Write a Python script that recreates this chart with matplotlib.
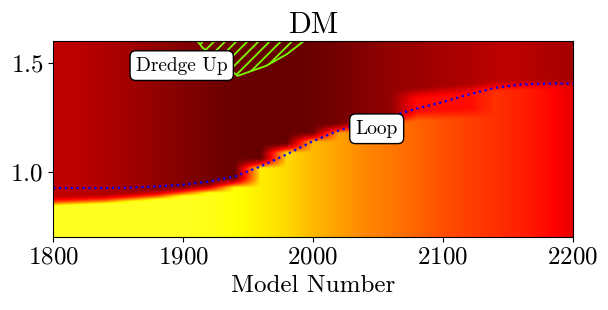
import numpy as np
import matplotlib
matplotlib.use("Agg")
import matplotlib.pyplot as plt

plt.rcParams["font.family"] = ["cmr10", "DejaVu Serif"]
plt.rcParams["mathtext.fontset"] = "cm"
plt.rcParams["axes.formatter.use_mathtext"] = True
plt.rcParams["axes.unicode_minus"] = False
plt.rcParams["hatch.linewidth"] = 1.3

# model numbers of the sampled columns
model_x = [1800, 1820, 1840, 1860, 1880, 1900, 1920, 1940, 1960, 1980, 2000,
           2020, 2040, 2060, 2080, 2100, 2120, 2140, 2160, 2180, 2200]

# mass coordinate of the envelope edge (dark -> bright)
edge_top = [0.865, 0.87, 0.875, 0.885, 0.895, 0.91, 0.925, 0.95, 1.04, 1.11, 1.16,
            1.20, 1.22, 1.245, 1.36, 1.37, 1.38, 1.395, 1.40, 1.40, 1.40]
# lower edge of the red band (same as edge_top where there is no band)
edge_low = [0.865, 0.87, 0.875, 0.885, 0.895, 0.91, 0.925, 0.95, 1.04, 1.11, 1.16,
            1.20, 1.22, 1.245, 1.255, 1.26, 1.265, 1.395, 1.40, 1.40, 1.40]

# colour values (0..1 on the "hot" map)
env_val = [0.274, 0.263, 0.248, 0.226, 0.204, 0.183, 0.161, 0.146, 0.139, 0.139, 0.146,
           0.161, 0.183, 0.204, 0.219, 0.234, 0.248, 0.263, 0.263, 0.248, 0.23]
core_val = [0.78, 0.78, 0.78, 0.78, 0.78, 0.78, 0.77, 0.75, 0.72, 0.69, 0.64,
            0.605, 0.567, 0.544, 0.514, 0.483, 0.46, 0.437, 0.413, 0.38, 0.33]
band_val = 0.38

# blue dotted line
line_y = [0.925, 0.925, 0.925, 0.927, 0.932, 0.94, 0.955, 0.978, 1.025, 1.08, 1.14,
          1.19, 1.225, 1.255, 1.29, 1.32, 1.355, 1.385, 1.40, 1.405, 1.405]

# dredge-up hatched zone
dredge_x = [1911, 1915, 1942, 1964, 1980, 1993]
dredge_y = [1.60, 1.57, 1.44, 1.486, 1.54, 1.60]

# build the raster from the columns
y_rows = np.linspace(0.7, 1.6, 181)
soft = 0.045
Z = np.zeros((len(y_rows), len(model_x)))
for j in range(len(model_x)):
    up = np.clip((y_rows - edge_top[j]) / soft + 0.5, 0, 1)
    lo = np.clip((edge_low[j] - y_rows) / soft + 0.5, 0, 1)
    col = core_val[j] * lo + band_val * (1 - lo)
    Z[:, j] = col * (1 - up) + env_val[j] * up

fig = plt.figure(figsize=(6.08, 3.10), dpi=100)
ax = fig.add_axes([0.0872, 0.2355, 0.8552, 0.6322])

dx = (model_x[1] - model_x[0]) / 2
dy = (y_rows[1] - y_rows[0]) / 2
ax.imshow(Z, cmap="hot", vmin=0, vmax=1, origin="lower", aspect="auto",
          interpolation="bilinear", interpolation_stage="data",
          extent=[model_x[0] - dx, model_x[-1] + dx, y_rows[0] - dy, y_rows[-1] + dy])

ax.fill(dredge_x, dredge_y, facecolor="none", edgecolor="lawngreen", hatch="///", lw=1.3)
ax.plot(model_x, line_y, color="blue", ls=":", lw=1.6)

box = dict(boxstyle="round,pad=0.3", fc="white", ec="black", lw=1)
ax.text(1899, 1.487, "Dredge Up", fontsize=14, ha="center", va="center", bbox=box)
ax.text(2049, 1.197, "Loop", fontsize=14, ha="center", va="center", bbox=box)

ax.set_xlim(1800, 2200)
ax.set_ylim(0.7, 1.6)
ax.set_xticks([1800, 1900, 2000, 2100, 2200])
ax.set_yticks([1.0, 1.5])
ax.tick_params(labelsize=18)
ax.set_xlabel("Model Number", fontsize=18)
ax.set_title("DM", fontsize=21.6)

fig.savefig("out.png", dpi=100)
